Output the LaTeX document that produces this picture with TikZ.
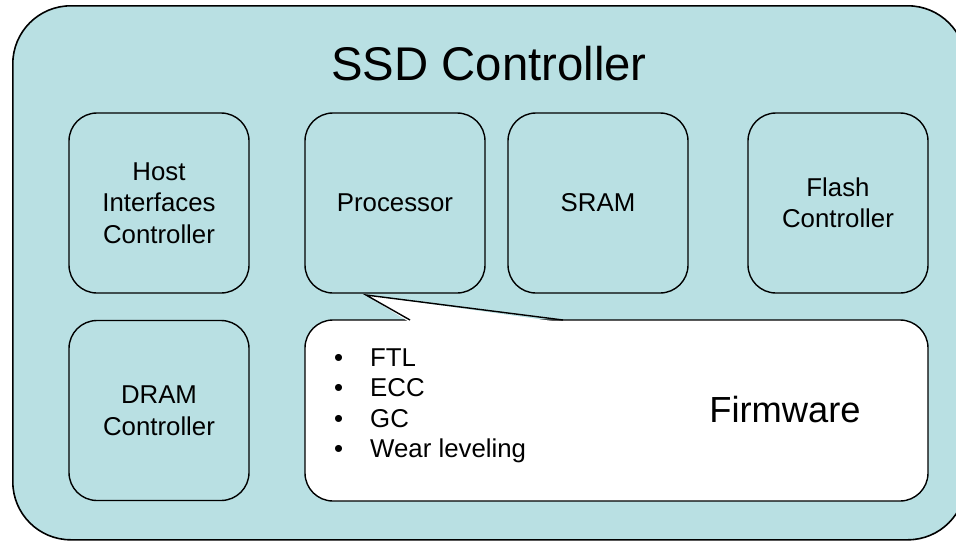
\documentclass[tikz,border=0pt]{standalone}
\usepackage{fontspec}
\setmainfont{Liberation Sans}
\definecolor{ctrlblue}{RGB}{185,224,227}
\begin{document}
\begin{tikzpicture}[x=1pt,y=-1pt,
  blk/.style={draw=black, line width=1.4pt, fill=ctrlblue, rounded corners=28pt,
    minimum width=180pt, minimum height=180pt, align=center, inner sep=0pt,
    font=\fontsize{25.8}{31.5}\selectfont},
  bul/.style={anchor=base west, inner sep=0pt, font=\fontsize{25.8}{30}\selectfont},
]
\useasboundingbox (0,0) rectangle (956,541);
\begin{scope}
\clip (0,0) rectangle (956,541);
\node[draw=black, line width=1.6pt, fill=ctrlblue, rounded corners=58pt,
  minimum width=953pt, minimum height=534pt, anchor=north west, inner sep=0pt] (outer) at (12,5) {};
\end{scope}
\node[anchor=base, inner sep=0pt, font=\fontsize{47.3}{56}\selectfont] (title) at (489,80) {SSD Controller};

\node[blk] (host) at (159,203) {Host\\Interfaces\\Controller};
\node[blk] (proc) at (395,203) {Processor};
\node[blk] (sram) at (598,203) {SRAM};
\node[blk] (flash) at (838,203) {Flash\\Controller};
\node[blk] (dram) at (159,410.5) {DRAM\\Controller};
\node[blk, fill=white, minimum width=623pt, minimum height=181pt] (fw) at (616.5,410.5) {};

\coordinate (tip) at (366,295);
\coordinate (pa) at (410,320);
\coordinate (pb) at (563,320);
\fill[white] ([yshift=-2.5pt]pa) -- (tip) -- ([yshift=-2.5pt]pb) -- cycle;
\draw[line width=1.4pt, line join=miter] (pa) -- (tip) -- (pb);

\node[anchor=center, inner sep=0pt, font=\fontsize{36.3}{40}\selectfont] (fwlabel) at (785,410) {Firmware};
\node[bul] (b1) at (334,366) {\makebox[36pt][l]{\textbullet}FTL};
\node[bul] (b2) at (334,396.5) {\makebox[36pt][l]{\textbullet}ECC};
\node[bul] (b3) at (334,427) {\makebox[36pt][l]{\textbullet}GC};
\node[bul] (b4) at (334,457) {\makebox[36pt][l]{\textbullet}Wear leveling};
\end{tikzpicture}
\end{document}
